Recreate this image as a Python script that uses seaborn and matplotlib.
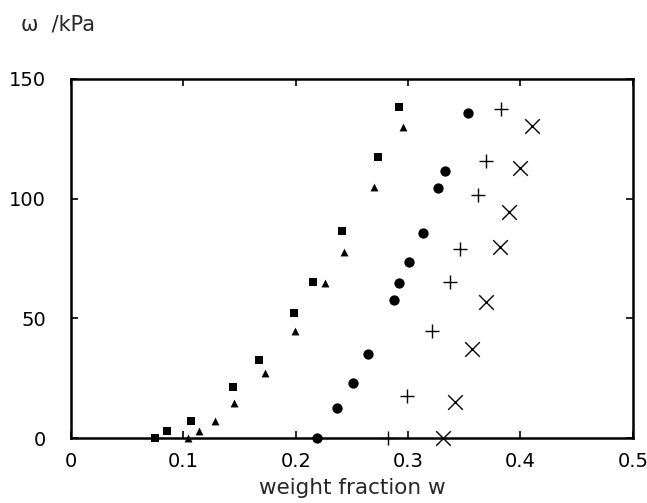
import numpy as np
import pandas as pd
import seaborn as sns
import matplotlib
matplotlib.use('Agg')
import matplotlib.pyplot as plt

sns.set_style("ticks")
plt.rcParams['font.family'] = ['DejaVu Sans']

# values
sq_w = [0.075, 0.085, 0.107, 0.144, 0.167, 0.198, 0.215, 0.241, 0.273, 0.292]
sq_p = [0.0, 3.0, 7.2, 21.4, 32.6, 52.1, 65.0, 86.6, 117.3, 138.3]

tri_w = [0.104, 0.114, 0.128, 0.145, 0.173, 0.199, 0.226, 0.243, 0.270, 0.295]
tri_p = [0.0, 3.1, 7.1, 14.8, 27.3, 44.8, 64.6, 77.9, 105.0, 130.1]

circ_w = [0.219, 0.237, 0.251, 0.264, 0.287, 0.292, 0.301, 0.313, 0.327, 0.333, 0.353]
circ_p = [0.0, 12.7, 23.1, 35.0, 57.7, 64.6, 73.7, 85.8, 104.3, 111.7, 135.7]

plus_w = [0.282, 0.299, 0.321, 0.337, 0.346, 0.362, 0.369, 0.383]
plus_p = [0.0, 17.6, 44.7, 65.3, 79.0, 101.5, 115.9, 137.5]

cross_w = [0.331, 0.342, 0.357, 0.369, 0.382, 0.390, 0.400, 0.410]
cross_p = [0.0, 15.2, 37.1, 56.7, 80.0, 94.6, 112.7, 130.5]

x_ticks = [0, 0.1, 0.2, 0.3, 0.4, 0.5]
x_tick_labels = ['0', '0.1', '0.2', '0.3', '0.4', '0.5']
y_ticks = [0, 50, 100, 150]

series = [
    ('square', sq_w, sq_p, 's', 30, 0),
    ('triangle', tri_w, tri_p, '^', 32, 0),
    ('circle', circ_w, circ_p, 'o', 55, 0),
    ('plus', plus_w, plus_p, '+', 110, 1.0),
    ('cross', cross_w, cross_p, 'x', 110, 1.0),
]

fig = plt.figure(figsize=(6.47, 5.03), dpi=100)
ax = fig.add_axes([0.110, 0.129, 0.868, 0.714])

for name, w, p, m, s, lw in series:
    df = pd.DataFrame({'w': w, 'p': p})
    sns.scatterplot(data=df, x='w', y='p', marker=m, s=s, color='black',
                    linewidth=lw, edgecolor='black' if lw == 0 else None,
                    ax=ax, clip_on=False, zorder=3, legend=False)

ax.set_xlim(0, 0.5)
ax.set_ylim(0, 150)
ax.set_xticks(x_ticks)
ax.set_xticklabels(x_tick_labels)
ax.set_yticks(y_ticks)
ax.tick_params(direction='in', top=True, right=True, length=5, width=1.2,
               labelsize=14, colors='black')
ax.tick_params(axis='y', pad=18)
ax.tick_params(axis='x', pad=10)
for sp in ax.spines.values():
    sp.set_linewidth(1.8)
    sp.set_color('black')

ax.set_xlabel('weight fraction w', fontsize=15.5, labelpad=5)
ax.set_ylabel('')
fig.text(0.033, 0.951, 'ω  /kPa', fontsize=15, ha='left', va='center')

fig.savefig('out.png', dpi=100)
